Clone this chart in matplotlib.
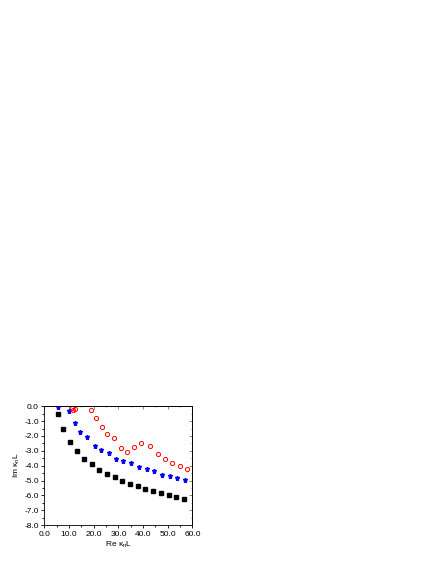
import numpy as np
import matplotlib
matplotlib.use('Agg')
import matplotlib.pyplot as plt
from matplotlib.ticker import MultipleLocator, FormatStrFormatter, NullFormatter

plt.rcParams['font.family'] = ['Liberation Sans', 'DejaVu Sans']
plt.rcParams['mathtext.fontset'] = 'custom'
plt.rcParams['mathtext.rm'] = 'Liberation Sans'
plt.rcParams['mathtext.it'] = 'Liberation Sans'

# black squares
re_sq = [5.6, 7.5, 10.2, 13.2, 16.0, 19.1, 22.2, 25.3, 28.4, 31.6, 34.7, 37.8, 40.9, 44.0, 47.1, 50.3, 53.4, 56.6]
im_sq = [-0.52, -1.51, -2.39, -3.04, -3.52, -3.92, -4.26, -4.55, -4.78, -5.0, -5.21, -5.36, -5.54, -5.70, -5.84, -5.97, -6.11, -6.22]

# blue stars
re_st = [5.6, 10.1, 12.4, 14.3, 17.4, 20.3, 22.9, 26.1, 29.1, 32.0, 35.2, 38.3, 41.4, 44.5, 47.6, 50.7, 53.8, 56.9]
im_st = [-0.03, -0.3, -1.15, -1.71, -2.05, -2.66, -2.93, -3.13, -3.54, -3.70, -3.85, -4.12, -4.24, -4.37, -4.60, -4.69, -4.80, -4.98]

# red open circles
re_ci = [11.1, 11.7, 12.5, 18.7, 20.7, 23.2, 25.5, 28.3, 31.1, 33.3, 36.2, 39.1, 42.9, 46.0, 49.0, 51.8, 54.9, 57.8]
im_ci = [-0.12, -0.27, -0.2, -0.28, -0.77, -1.40, -1.89, -2.14, -2.84, -3.06, -2.74, -2.50, -2.67, -3.20, -3.58, -3.81, -4.01, -4.21]

fig = plt.figure(figsize=(4.36, 5.64), dpi=100)
ax = fig.add_axes([0.102, 0.0691, 0.3394, 0.2105])

ax.plot(re_sq, im_sq, 's', color='black', markersize=2.5, linestyle='none')
ax.plot(re_st, im_st, '*', color='blue', markersize=3.6, linestyle='none')
ax.plot(re_ci, im_ci, 'o', markerfacecolor='none', markeredgecolor='red',
        markeredgewidth=0.7, markersize=3.0, linestyle='none')

ax.set_xlim(0, 60)
ax.set_ylim(-8, 0)
ax.xaxis.set_major_locator(MultipleLocator(10))
ax.xaxis.set_minor_locator(MultipleLocator(5))
ax.yaxis.set_major_locator(MultipleLocator(1))
ax.yaxis.set_minor_locator(MultipleLocator(0.5))
ax.xaxis.set_major_formatter(FormatStrFormatter('%.1f'))
ax.yaxis.set_major_formatter(FormatStrFormatter('%.1f'))

ax.tick_params(which='both', direction='out', labelsize=6, width=0.6, pad=1.5)
ax.tick_params(which='major', length=2.5)
ax.tick_params(which='minor', length=1.3)
for s in ax.spines.values():
    s.set_linewidth(0.6)

# mirrored inward ticks on top and right
top = ax.secondary_xaxis('top')
top.xaxis.set_major_locator(MultipleLocator(10))
top.xaxis.set_minor_locator(MultipleLocator(5))
top.xaxis.set_major_formatter(NullFormatter())
top.tick_params(which='both', direction='in', width=0.5, color='#555555')
top.tick_params(which='major', length=2)
top.tick_params(which='minor', length=1)
top.spines['top'].set_linewidth(0.6)
right = ax.secondary_yaxis('right')
right.yaxis.set_major_locator(MultipleLocator(1))
right.yaxis.set_minor_locator(MultipleLocator(0.5))
right.yaxis.set_major_formatter(NullFormatter())
right.tick_params(which='both', direction='in', width=0.5, color='#555555')
right.tick_params(which='major', length=2)
right.tick_params(which='minor', length=1)
right.spines['right'].set_linewidth(0.6)

ax.set_xlabel(r'Re $\kappa_n$L', fontsize=6, labelpad=1.5)
ax.set_ylabel(r'Im $\kappa_n$L', fontsize=6, labelpad=1.5)

fig.savefig('out.png', dpi=100)
